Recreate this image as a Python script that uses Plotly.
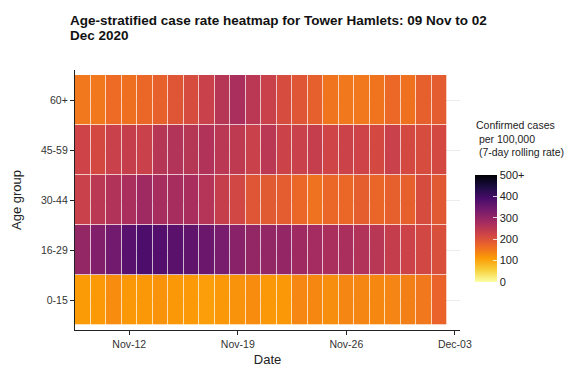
import plotly.graph_objects as go
import pandas as pd

dates = pd.date_range("2020-11-09", "2020-12-02", freq="D").strftime("%Y-%m-%d").tolist()
age_groups = ["0-15", "16-29", "30-44", "45-59", "60+"]

rate_0_15 = [110, 112, 128, 115, 115, 120, 115, 112, 108, 115, 120, 128,
             115, 115, 133, 132, 126, 135, 135, 132, 136, 142, 150, 175]
rate_16_29 = [300, 322, 340, 372, 385, 378, 370, 362, 350, 333, 312, 300,
              300, 298, 285, 278, 270, 270, 262, 252, 238, 228, 218, 205]
rate_30_44 = [230, 250, 262, 270, 285, 275, 275, 272, 258, 235, 218, 195,
              188, 185, 170, 157, 170, 170, 182, 172, 180, 180, 210, 190]
rate_45_59 = [225, 215, 230, 235, 230, 255, 260, 255, 262, 250, 245, 230,
              250, 228, 230, 237, 222, 228, 225, 215, 230, 215, 210, 215]
rate_60p = [150, 150, 165, 160, 170, 178, 195, 210, 230, 255, 270, 250,
            230, 210, 195, 180, 155, 150, 150, 155, 168, 158, 180, 185]

z = [rate_0_15, rate_16_29, rate_30_44, rate_45_59, rate_60p]

cb_ticks = [0, 100, 200, 300, 400, 500]
cb_text = ["0", "100", "200", "300", "400", "500+"]
x_ticks = ["2020-11-12", "2020-11-19", "2020-11-26", "2020-12-03"]

W, H = 581, 372
L, R, T, B = 75, 121, 70, 42
pw, ph = W - L - R, H - T - B

def px_x(p):
    return (p - L) / pw

def px_y(p):
    return (H - B - p) / ph

font = "Liberation Sans, Arial"

fig = go.Figure(go.Heatmap(
    x=dates, y=age_groups, z=z,
    zmin=0, zmax=500,
    colorscale="Inferno", reversescale=True,
    xgap=0.7, ygap=0.7,
    colorbar=dict(
        x=px_x(475), xanchor="left",
        y=px_y(228.5), yanchor="middle",
        len=107, lenmode="pixels", ypad=0, xpad=0,
        thickness=22, thicknessmode="pixels",
        outlinewidth=0,
        tickvals=cb_ticks, ticktext=cb_text,
        ticks="inside", tickcolor="rgba(255,255,255,0.8)", ticklen=4,
        tickfont=dict(family=font, size=11, color="#222"),
    ),
))

fig.update_layout(
    width=W, height=H,
    margin=dict(l=L, r=R, t=T, b=B, autoexpand=False),
    paper_bgcolor="white", plot_bgcolor="white",
    font=dict(family=font, color="#222"),
    xaxis=dict(
        type="date", automargin=False,
        range=["2020-11-08 12:00", "2020-12-03 08:00"],
        tickvals=x_ticks, tickformat="%b-%d",
        ticks="outside", ticklen=4, tickcolor="#222",
        showline=True, linecolor="#222", linewidth=1.2,
        showgrid=False, zeroline=False,
        tickfont=dict(size=10.5, color="#333"),
        title=dict(text="Date", font=dict(size=13, color="#222"), standoff=6),
    ),
    yaxis=dict(
        type="category", automargin=False,
        range=[-0.6, 4.6],
        ticks="outside", ticklen=4, tickcolor="#222",
        showline=True, linecolor="#222", linewidth=1.2,
        showgrid=True, gridcolor="#ececec", zeroline=False,
        tickfont=dict(size=10.5, color="#333"),
        title=dict(text="Age group", font=dict(size=13, color="#222"), standoff=16),
    ),
    annotations=[
        dict(text="<b>Age-stratified case rate heatmap for Tower Hamlets: 09 Nov to 02</b>",
             xref="paper", yref="paper", x=px_x(68), y=px_y(20.5),
             xanchor="left", yanchor="middle", showarrow=False,
             font=dict(size=13.5, color="#111", family=font)),
        dict(text="<b>Dec 2020</b>",
             xref="paper", yref="paper", x=px_x(68), y=px_y(35.5),
             xanchor="left", yanchor="middle", showarrow=False,
             font=dict(size=13.5, color="#111", family=font)),
        dict(text="Confirmed cases<br> per 100,000<br> (7-day rolling rate)",
             xref="paper", yref="paper", x=px_x(474), y=px_y(117),
             xanchor="left", yanchor="top", align="left", showarrow=False,
             font=dict(size=10.5, color="#222", family=font)),
    ],
)

fig.write_html("out.html",
               config={"displayModeBar": False},
               post_script="document.body.style.margin='0';document.body.style.padding='0';")
